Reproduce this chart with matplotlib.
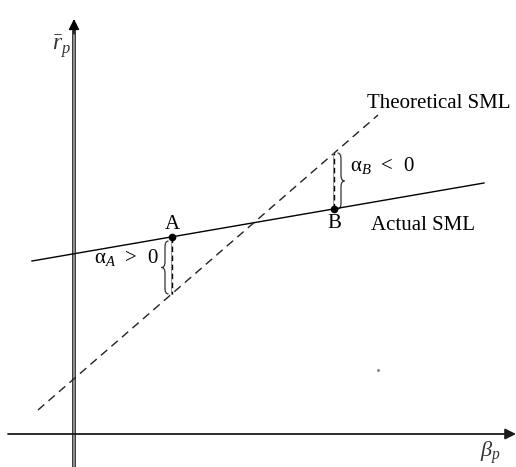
import numpy as np
import matplotlib.pyplot as plt
import matplotlib.patheffects as pe
from matplotlib.path import Path
from matplotlib.patches import PathPatch

plt.rcParams['font.family'] = 'Liberation Serif'
plt.rcParams['mathtext.fontset'] = 'custom'
plt.rcParams['mathtext.rm'] = 'Liberation Serif'
plt.rcParams['mathtext.it'] = 'Liberation Serif:italic'

# SML lines (beta, expected return) endpoints
actual_beta = [-0.42, 4.10]
actual_r = [1.73, 2.51]
theory_beta = [-0.36, 3.04]
theory_r = [0.24, 3.19]

# portfolios A and B: beta, actual return, theoretical return
port_names = ['A', 'B']
port_beta = [0.98, 2.60]
port_r = [1.97, 2.25]
port_r_theory = [1.40, 2.81]


def brace(ax, x, y0, y1, side, w=0.035):
    # curly brace between y0 and y1, tip pointing to 'side' (-1 left, +1 right)
    ym = (y0 + y1) / 2
    tip = x + side * w
    back = x - side * w
    c = 0.06 * abs(y1 - y0) / 0.55
    verts = [(back, y1), (x, y1), (x, y1 - c),
             (x, ym + c),
             (x, ym), (tip, ym),
             (x, ym), (x, ym - c),
             (x, y0 + c),
             (x, y0), (back, y0)]
    codes = [Path.MOVETO, Path.CURVE3, Path.CURVE3,
             Path.LINETO,
             Path.CURVE3, Path.CURVE3,
             Path.CURVE3, Path.CURVE3,
             Path.LINETO,
             Path.CURVE3, Path.CURVE3]
    ax.add_patch(PathPatch(Path(verts, codes), fill=False, lw=0.9, color='#333333'))


fig = plt.figure(figsize=(5.16, 4.67), dpi=100)
ax = fig.add_axes([0, 0, 1, 1])
ax.set_xlim(-0.74, 4.42)
ax.set_ylim(-0.33, 4.34)
ax.axis('off')

# axes with arrows
ax.annotate('', xy=(4.42, 0), xytext=(-0.66, 0),
            arrowprops=dict(arrowstyle='-|>', color='#1a1a1a', lw=1.3, mutation_scale=16,
                            shrinkA=0, shrinkB=0))
ax.plot([0, 0], [-0.32, 4.04], color='#999999', lw=1.3,
        path_effects=[pe.Stroke(linewidth=2.8, foreground='#333333'), pe.Normal()])
ax.annotate('', xy=(0, 4.15), xytext=(0, 4.0),
            arrowprops=dict(arrowstyle='-|>', color='black', lw=1.0, mutation_scale=16,
                            shrinkA=0, shrinkB=0))

ax.plot(actual_beta, actual_r, color='black', lw=1.0)
ax.plot(theory_beta, theory_r, color='#222222', lw=1.0, linestyle=(0, (6, 4)))

for b, r, rt in zip(port_beta, port_r, port_r_theory):
    ax.plot([b - 0.01, b - 0.01], [r, rt], color='#888888', lw=0.6)
    ax.plot([b, b], [r, rt], color='black', lw=1.0, linestyle=(0, (4, 2.5)))
    ax.plot(b, r, 'o', color='black', markersize=4.5)

brace(ax, port_beta[0] - 0.07, port_r_theory[0], port_r[0] - 0.04, -1)
brace(ax, port_beta[1] + 0.07, port_r[1], port_r_theory[1], 1)

fs = 15
ax.text(port_beta[0], port_r[0] + 0.03, port_names[0], ha='center', va='bottom', fontsize=fs)
ax.text(port_beta[1], port_r[1] - 0.05, port_names[1], ha='center', va='top', fontsize=fs)
ax.text(2.93, 3.30, 'Theoretical SML', ha='left', va='center', fontsize=fs)
ax.text(2.97, 2.09, 'Actual SML', ha='left', va='center', fontsize=fs)
ax.text(0.20, 1.76, r'α$_{A}$  >  0', ha='left', va='center', fontsize=fs)
ax.text(2.76, 2.68, r'α$_{B}$  <  0', ha='left', va='center', fontsize=fs)
ax.text(-0.12, 3.87, r'$\bar{r}_p$', ha='center', va='center', fontsize=17, color='#333333')
ax.text(4.16, -0.19, r'$\beta_p$', ha='center', va='center', fontsize=16, color='#333333')

# stray dot
ax.plot(3.04, 0.64, '.', color='#777777', markersize=2)

plt.savefig('out.png')
